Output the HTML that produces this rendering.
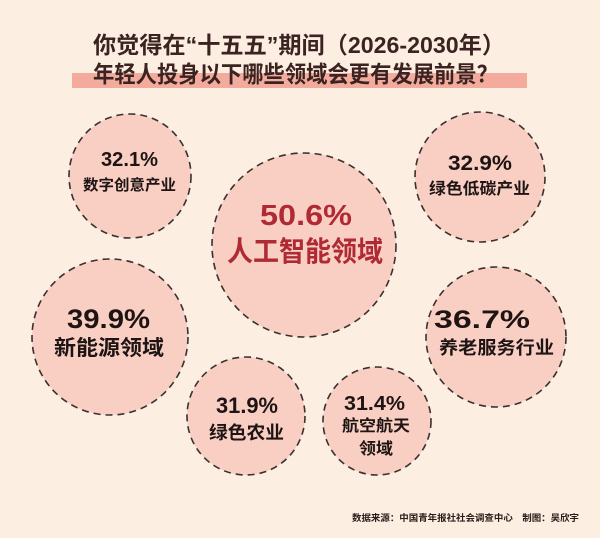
<!DOCTYPE html>
<html><head><meta charset="utf-8"><style>
html,body{margin:0;padding:0;background:#fdeee2;}
svg{display:block}
text{font-family:"Liberation Sans","Noto Sans CJK SC",sans-serif;font-weight:bold;}
</style></head><body>
<svg width="600" height="538" viewBox="0 0 600 538" xmlns="http://www.w3.org/2000/svg">
<rect width="600" height="538" fill="#fdeee2"/>
<rect x="72" y="73" width="455" height="15" fill="#f3ab9d"/>
<text x="93" y="53" font-size="23" fill="#3a2320" textLength="412" lengthAdjust="spacingAndGlyphs">你觉得在“十五五”期间（2026-2030年）</text>
<text x="93" y="82" font-size="23" fill="#3a2320" textLength="405" lengthAdjust="spacingAndGlyphs">年轻人投身以下哪些领域会更有发展前景？</text>
<g fill="#f8cfc2" stroke="#3a3030" stroke-width="1.6" stroke-dasharray="7,5">
<ellipse cx="130" cy="176" rx="61" ry="62"/>
<ellipse cx="304" cy="245" rx="92" ry="92"/>
<ellipse cx="480" cy="177" rx="65" ry="65"/>
<ellipse cx="110" cy="337" rx="78" ry="78"/>
<ellipse cx="496" cy="337" rx="70" ry="70"/>
<ellipse cx="246" cy="416" rx="59" ry="59"/>
<ellipse cx="377" cy="421" rx="54" ry="54"/>
</g>
<g fill="#1e1414">
<text x="101" y="166" font-size="20" textLength="57" lengthAdjust="spacingAndGlyphs">32.1%</text>
<text x="83" y="190" font-size="15" textLength="93" lengthAdjust="spacingAndGlyphs">数字创意产业</text>
<text x="448" y="170" font-size="21" textLength="64" lengthAdjust="spacingAndGlyphs">32.9%</text>
<text x="429" y="194" font-size="16" textLength="101" lengthAdjust="spacingAndGlyphs">绿色低碳产业</text>
<text x="67" y="328" font-size="27" textLength="83" lengthAdjust="spacingAndGlyphs">39.9%</text>
<text x="54" y="355" font-size="21" textLength="110" lengthAdjust="spacingAndGlyphs">新能源领域</text>
<text x="434" y="328" font-size="25" textLength="96" lengthAdjust="spacingAndGlyphs">36.7%</text>
<text x="439" y="354" font-size="18" textLength="115" lengthAdjust="spacingAndGlyphs">养老服务行业</text>
<text x="216" y="413" font-size="22" textLength="62" lengthAdjust="spacingAndGlyphs">31.9%</text>
<text x="209" y="439" font-size="18" textLength="75" lengthAdjust="spacingAndGlyphs">绿色农业</text>
<text x="344" y="410" font-size="20" textLength="61" lengthAdjust="spacingAndGlyphs">31.4%</text>
<text x="342" y="431" font-size="16" textLength="68" lengthAdjust="spacingAndGlyphs">航空航天</text>
<text x="359" y="454" font-size="16" textLength="34" lengthAdjust="spacingAndGlyphs">领域</text>
</g>
<g fill="#b02a35">
<text x="260" y="225" font-size="29" textLength="92" lengthAdjust="spacingAndGlyphs">50.6%</text>
<text x="227" y="261" font-size="28" textLength="156" lengthAdjust="spacingAndGlyphs">人工智能领域</text>
</g>
<text x="352" y="521" font-size="9" fill="#2a1a18" textLength="227" lengthAdjust="spacingAndGlyphs">数据来源：中国青年报社社会调查中心　制图：吴欣宇</text>
</svg>
</body></html>
